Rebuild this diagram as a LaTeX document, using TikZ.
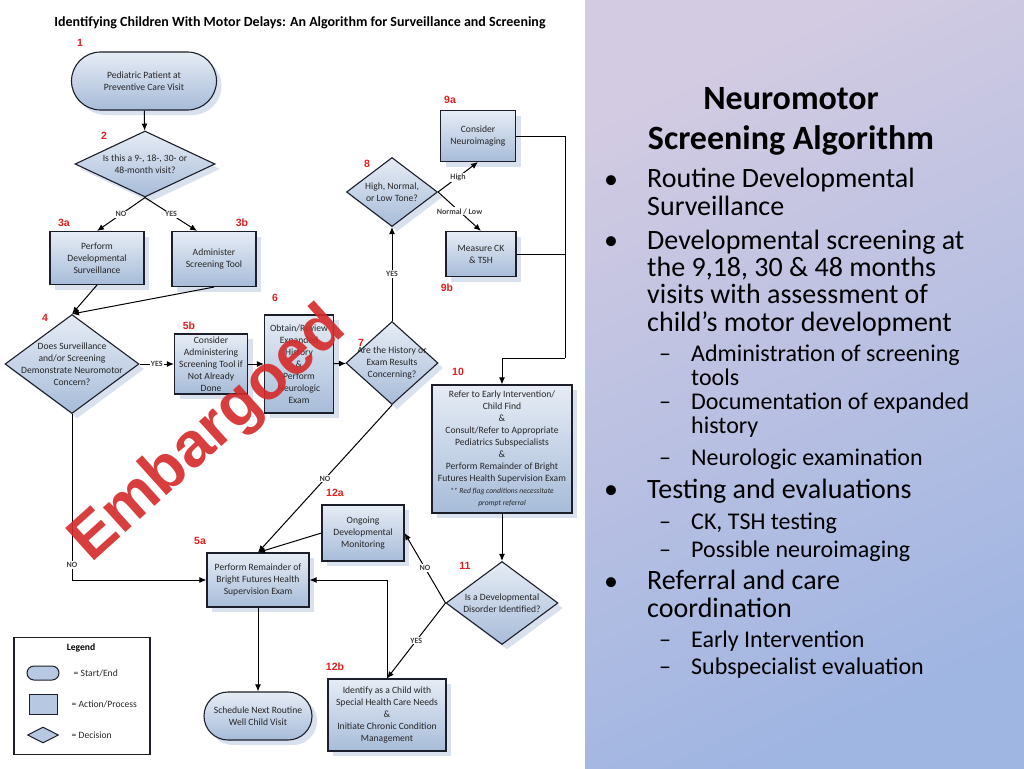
\documentclass[tikz,border=0pt]{standalone}
\usepackage{fontspec}
\setmainfont{Carlito}
\newfontfamily\numfont{Liberation Sans}
\usetikzlibrary{arrows.meta,positioning,calc,shapes.geometric,shapes.misc,shadows}
\definecolor{boxtop}{HTML}{E6ECF5}
\definecolor{boxbot}{HTML}{A7BCD9}
\definecolor{boxshade}{HTML}{D9E1EE}
\definecolor{edgeink}{HTML}{1C1F2A}
\definecolor{stepred}{HTML}{E41E1E}
\definecolor{slidetop}{HTML}{D3CBE2}
\definecolor{slidebot}{HTML}{9FB5E2}
\definecolor{stampred}{HTML}{D42A2A}
\definecolor{legfill}{HTML}{B7C8E2}
\tikzset{
  proc/.style     = {draw=edgeink, line width=1.1pt, top color=boxtop, bottom color=boxbot,
                     drop shadow={shadow xshift=5pt, shadow yshift=-5pt, fill=boxshade, opacity=1},
                     align=center, inner sep=1pt, text=black!85,
                     font=\fontsize{9.6}{12}\selectfont},
  term/.style     = {proc, rounded rectangle},
  decision/.style = {proc, diamond, inner sep=0pt},
  dtext/.style    = {align=center, inner sep=0pt, text=black!85, font=\fontsize{9.6}{12}\selectfont},
  arr/.style      = {-{Latex[length=7pt,width=6pt]}, line width=1pt, draw=black},
  wire/.style     = {line width=1pt, draw=black},
  elbl/.style     = {fill=white, inner sep=1pt, text=black!75, font=\bfseries\fontsize{8}{9}\selectfont},
  stepno/.style   = {text=stepred, inner sep=0pt, font=\numfont\bfseries\fontsize{10.5}{12}\selectfont},
  legicon/.style  = {draw=edgeink, line width=1pt, fill=legfill, inner sep=0pt},
  legtxt/.style   = {inner sep=0pt, text=black!85, font=\fontsize{9.6}{12}\selectfont},
  ttl/.style      = {inner sep=0pt, font=\bfseries\fontsize{34}{40}\selectfont},
  item/.style     = {anchor=base west, align=left, inner sep=0pt, font=\fontsize{28}{27.3}\selectfont},
  subitem/.style  = {anchor=base west, align=left, inner sep=0pt, font=\fontsize{24}{24}\selectfont},
  stamp/.style    = {inner sep=0pt, text=stampred, opacity=0.9, font=\numfont\bfseries\fontsize{63}{63}\selectfont},
}
\begin{document}
\begin{tikzpicture}[x=1pt,y=-1pt]
  \useasboundingbox (0,0) rectangle (1024,768);
  % slide background
  \shade[top color=slidetop, bottom color=slidebot, shading angle=25] (585,0) rectangle (1024,768);
  \fill[white] (0,0) rectangle (585,768);

  \node[font=\bfseries\fontsize{14}{16}\selectfont] (title) at (300,23)
    {Identifying Children With Motor Delays: An Algorithm for Surveillance and Screening};

  % flowchart
  \node[term, minimum width=147pt, minimum height=58pt] (t1) at (144,81) {Pediatric Patient at\\Preventive Care Visit};
  \node[decision, minimum width=140pt, minimum height=66pt,
        label={[dtext]center:Is this a 9-, 18-, 30- or\\48-month visit?}] (q2) at (145,164) {};
  \node[proc, minimum width=94pt, minimum height=53pt] (p3a) at (97,258) {Perform\\Developmental\\Surveillance};
  \node[proc, minimum width=84pt, minimum height=55pt] (p3b) at (214,259) {Administer\\Screening Tool};
  \node[decision, minimum width=134pt, minimum height=99pt,
        label={[dtext]center:Does Surveillance\\and/or Screening\\Demonstrate Neuromotor\\Concern?}] (q4) at (72,364) {};
  \node[proc, minimum width=73pt, minimum height=60pt] (p5b) at (211,364) {Consider\\Administering\\Screening Tool if\\Not Already\\Done};
  \node[proc, minimum width=69pt, minimum height=98pt] (p6) at (299,364) {Obtain/Review\\Expanded\\History\\\&\\Perform\\Neurologic\\Exam};
  \node[decision, minimum width=92pt, minimum height=83pt,
        label={[dtext]center:Are the History or\\Exam Results\\Concerning?}] (q7) at (392,363) {};
  \node[decision, minimum width=91pt, minimum height=69pt,
        label={[dtext]center:High, Normal,\\or Low Tone?}] (q8) at (392,192) {};
  \node[proc, minimum width=75pt, minimum height=51pt] (p9a) at (478,136) {Consider\\Neuroimaging};
  \node[proc, minimum width=70pt, minimum height=45pt] (p9b) at (481,254) {Measure CK\\\& TSH};
  \node[proc, minimum width=140pt, minimum height=128pt] (p10) at (502,449)
    {Refer to Early Intervention/\\Child Find\\\&\\Consult/Refer to Appropriate\\Pediatrics Subspecialists\\\&\\Perform Remainder of Bright\\Futures Health Supervision Exam\\
     {\itshape\fontsize{7.6}{11}\selectfont ** Red flag conditions necessitate}\\
     {\itshape\fontsize{7.6}{11}\selectfont prompt referral}};
  \node[decision, minimum width=112pt, minimum height=83pt,
        label={[dtext]center:Is a Developmental\\Disorder Identified?}] (q11) at (502,603) {};
  \node[proc, minimum width=82pt, minimum height=56pt] (p12a) at (363,533) {Ongoing\\Developmental\\Monitoring};
  \node[proc, minimum width=102pt, minimum height=54pt] (p5a) at (258,580) {Perform Remainder of\\Bright Futures Health\\Supervision Exam};
  \node[term, minimum width=110pt, minimum height=48pt] (t13) at (258,716) {Schedule Next Routine\\Well Child Visit};
  \node[proc, minimum width=118pt, minimum height=72pt] (p12b) at (387,715) {Identify as a Child with\\Special Health Care Needs\\\&\\Initiate Chronic Condition\\Management};

  % step numbers
  \node[stepno] (n1) at (80,43) {1};
  \node[stepno] (n2) at (104,136) {2};
  \node[stepno] (n3a) at (64,223) {3a};
  \node[stepno] (n3b) at (242,223) {3b};
  \node[stepno] (n4) at (45,318) {4};
  \node[stepno] (n5b) at (189,326) {5b};
  \node[stepno] (n6) at (275,298) {6};
  \node[stepno] (n7) at (361,343) {7};
  \node[stepno] (n8) at (367,164) {8};
  \node[stepno] (n9a) at (450,100) {9a};
  \node[stepno] (n9b) at (447,288) {9b};
  \node[stepno] (n10) at (458,372) {10};
  \node[stepno] (n11) at (465,566) {11};
  \node[stepno] (n12a) at (335,493) {12a};
  \node[stepno] (n5a) at (200,541) {5a};
  \node[stepno] (n12b) at (335,667) {12b};

  % connectors
  \draw[arr] (t1) -- (q2);
  \draw[arr] (q2.south) -- (p3a.north) node[elbl, midway] {NO};
  \draw[arr] (q2.south) -- ($(p3b.north)+(-17,0)$) node[elbl, midway] {YES};
  \draw[arr] (p3a.south) -- (q4.north);
  \draw[arr] (p3b.south) -- (q4.north);
  \draw[arr] (q4.east) -- (p5b.west) node[elbl, midway] {YES};
  \draw[arr] (p5b) -- (p6);
  \draw[arr] (p6) -- (q7);
  \draw[arr] (q7.north) -- (q8.south) node[elbl, midway] {YES};
  \draw[arr] (q8.east) -- (p9a.south) node[elbl, midway] {High};
  \draw[arr] (q8.east) -- (p9b.north) node[elbl, midway] {Normal / Low};
  \coordinate (jn) at (565,358);
  \draw[wire] (p9a.east) -| (jn);
  \draw[wire] (p9b.east) -- (p9b.east -| jn);
  \draw[arr] (jn) -| (p10.north);
  \draw[arr] (p10) -- (q11);
  \draw[arr] (q11.west) -- (p12a.east) node[elbl, midway] {NO};
  \draw[arr] (q11.west) -- (p12b.north) node[elbl, midway] {YES};
  \draw[arr] (p12b.north) |- (p5a.east);
  \draw[arr] (q7.south) -- (p5a.north) node[elbl, midway] {NO};
  \draw[arr] (p12a.west) -- (p5a.north);
  \draw[arr] (q4.south) |- (p5a.west) node[elbl, pos=0.455] {NO};
  \draw[arr] (p5a) -- (t13);

  % legend
  \node[draw=edgeink, line width=1.2pt, fill=white, minimum width=136pt, minimum height=117pt] (leg) at (82,696) {};
  \node[font=\bfseries\fontsize{9.6}{11}\selectfont] (legt) at (81,648) {Legend};
  \node[legicon, rounded rectangle, minimum width=32pt, minimum height=14pt] (lg1) at (43,673) {};
  \node[legtxt, right=14pt of lg1] (lt1) {= Start/End};
  \node[legicon, minimum width=28pt, minimum height=20pt] (lg2) at (43,704) {};
  \node[legtxt, right=14pt of lg2] (lt2) {= Action/Process};
  \node[legicon, diamond, minimum width=31pt, minimum height=16pt] (lg3) at (43,735) {};
  \node[legtxt, right=12.5pt of lg3] (lt3) {= Decision};

  % slide text (multi-line items are placed by their last line)
  \node[ttl, anchor=base] (ttl1) at (791,109) {Neuromotor};
  \node[ttl, anchor=base] (ttl2) at (791,149) {Screening Algorithm};
  \node[item, anchor=base] (d1) at (611,188) {•};
  \node[item] (i1) at (647,215) {Routine Developmental\\Surveillance};
  \node[item, anchor=base] (d2) at (611,249) {•};
  \node[item] (i2) at (647,331) {Developmental screening at\\the 9,18, 30 \& 48 months\\visits with assessment of\\child’s motor development};
  \node[subitem, anchor=base] (s1) at (665,361) {–};
  \node[subitem] (j1) at (691,385) {Administration of screening\\tools};
  \node[subitem, anchor=base] (s2) at (665,409) {–};
  \node[subitem] (j2) at (691,433) {Documentation of expanded\\history};
  \node[subitem, anchor=base] (s3) at (665,465) {–};
  \node[subitem] (j3) at (691,465) {Neurologic examination};
  \node[item, anchor=base] (d3) at (611,498) {•};
  \node[item] (i3) at (647,498) {Testing and evaluations};
  \node[subitem, anchor=base] (s4) at (665,529) {–};
  \node[subitem] (j4) at (691,529) {CK, TSH testing};
  \node[subitem, anchor=base] (s5) at (665,557) {–};
  \node[subitem] (j5) at (691,557) {Possible neuroimaging};
  \node[item, anchor=base] (d4) at (611,590) {•};
  \node[item] (i4) at (647,617) {Referral and care\\coordination};
  \node[subitem, anchor=base] (s6) at (665,647) {–};
  \node[subitem] (j6) at (691,647) {Early Intervention};
  \node[subitem, anchor=base] (s7) at (665,674) {–};
  \node[subitem] (j7) at (691,674) {Subspecialist evaluation};

  % watermark
  \node[stamp, rotate=42] (emb) at (209,436) {Embargoed};
\end{tikzpicture}
\end{document}
